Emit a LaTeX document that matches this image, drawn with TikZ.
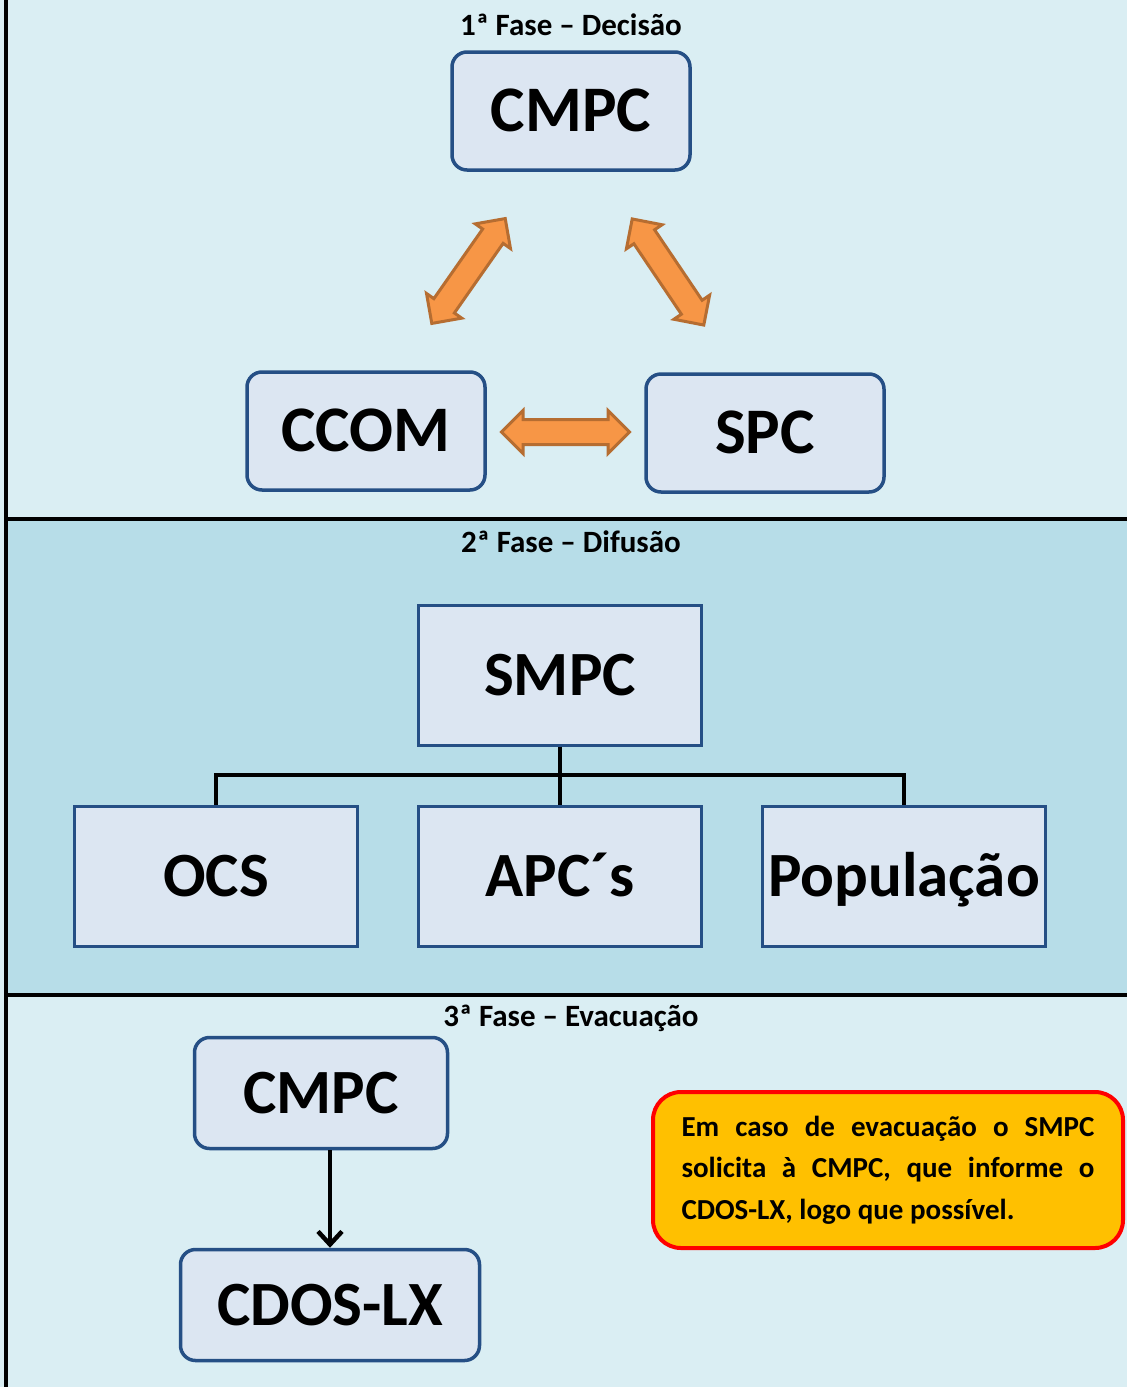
\documentclass[tikz,border=0pt]{standalone}
\usepackage{fontspec}
\setmainfont{Carlito}
\usetikzlibrary{shapes.arrows,calc,arrows.meta}

\definecolor{paleblue}{HTML}{DAEEF3}
\definecolor{midblue}{HTML}{B7DDE8}
\definecolor{boxfill}{HTML}{DCE6F2}
\definecolor{boxline}{HTML}{254F85}
\definecolor{arrowfill}{HTML}{F79646}
\definecolor{arrowline}{HTML}{B66D31}
\definecolor{notefill}{HTML}{FFC000}

\tikzset{
	unitbox/.style={draw=boxline, fill=boxfill, line width=3.5pt, rounded corners=15pt, minimum width=238pt, minimum height=118pt, inner sep=0pt, text height=41pt, text depth=0pt, font=\fontsize{65}{70}\selectfont\bfseries},
	flatbox/.style={unitbox, rounded corners=0pt, line width=3pt, minimum width=283pt, minimum height=140pt, font=\fontsize{63}{70}\selectfont\bfseries},
	fatarrow/.style={double arrow, draw=arrowline, fill=arrowfill, line width=3pt, minimum height=128pt, inner xsep=0pt, inner ysep=11pt, double arrow head extend=9pt},
	phase/.style={font=\fontsize{31}{34}\selectfont\bfseries},
	link/.style={line width=4pt},
}

\begin{document}
\begin{tikzpicture}[x=1pt,y=-1pt]
	\useasboundingbox (0,0) rectangle (1127,1387);
	\fill[paleblue] (0,0) rectangle (1127,1387);
	\fill[midblue] (6,519) rectangle (1127,995);
	\draw[link] (6,518.5) -- (1127,518.5);
	\draw[link] (6,994.5) -- (1127,994.5);
	\draw[link] (6,0) -- (6,1387);

	\node[phase] (phase1) at (571,25) {1ª Fase – Decisão};
	\node[unitbox] (cmpc) at (571,111) {CMPC};
	\node[unitbox] (ccom) at (366,431) {CCOM};
	\node[unitbox] (spc) at (765,433) {SPC};
	\node[fatarrow, rotate=55] (a1) at ($(cmpc)!0.5!(ccom)$) {};
	\node[fatarrow, rotate=-56] (a2) at ($(cmpc)!0.5!(spc)$) {};
	\node[fatarrow] (a3) at ($(ccom)!0.5!(spc)$) {};

	\node[phase] (phase2) at (571,542) {2ª Fase – Difusão};
	\node[flatbox] (smpc) at (560,675) {SMPC};
	\node[flatbox] (ocs) at (216,876) {OCS};
	\node[flatbox] (apc) at (560,876) {APC´s};
	\node[flatbox] (pop) at (904,876) {População};
	\coordinate (bus) at (560,775);
	\draw[link] (smpc) -- (apc);
	\draw[link] (ocs.north) |- (bus) -| (pop.north);

	\node[phase] (phase3) at (571,1018) {3ª Fase – Evacuação};
	\node[unitbox, minimum width=253pt, minimum height=111pt, font=\fontsize{63}{70}\selectfont\bfseries] (cmpc2) at (321,1093) {CMPC};
	\node[unitbox, minimum width=299pt, minimum height=111pt, font=\fontsize{63}{70}\selectfont\bfseries] (cdos) at (330,1305) {CDOS-LX};
	\draw[link, line width=4.5pt, -{Straight Barb[length=13pt,width=24pt]}] (cdos.north |- cmpc2.south) -- (cdos.north);

	\node[draw=red, fill=notefill, line width=4pt, rounded corners=28pt, minimum width=470pt, minimum height=156pt, text width=413pt, align=justify, font=\fontsize{29}{41.5}\selectfont\bfseries] (note) at (888,1170)
		{Em caso de evacuação o SMPC\linebreak solicita à CMPC, que informe o\linebreak CDOS-LX, logo que possível.};
\end{tikzpicture}
\end{document}
